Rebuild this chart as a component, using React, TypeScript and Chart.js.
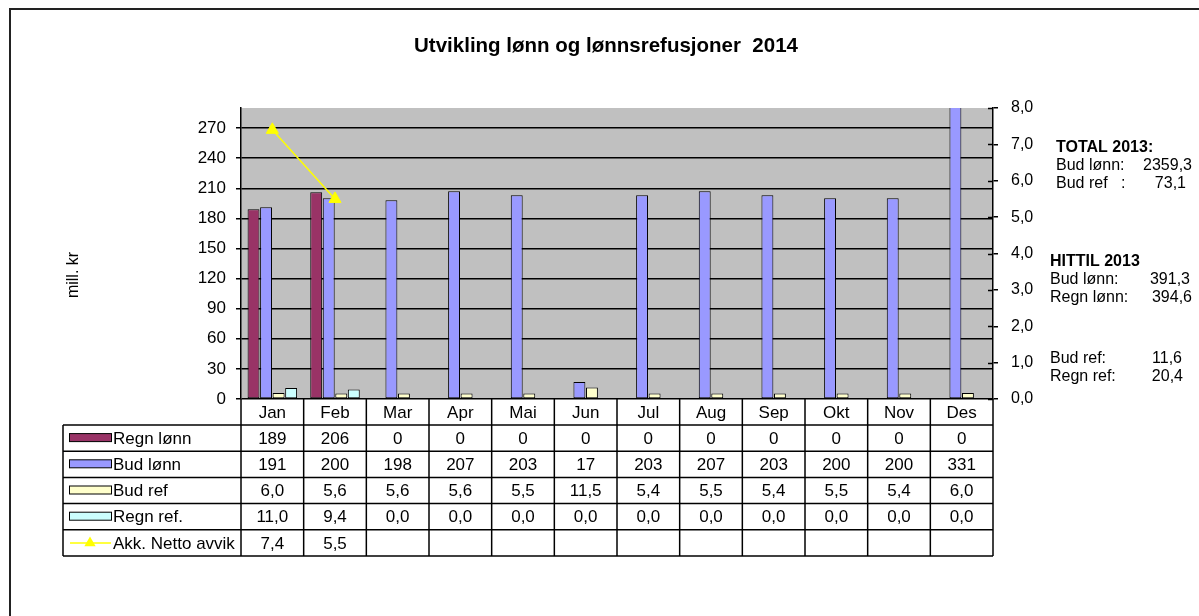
import React, { useEffect, useRef } from "react";
import { Chart, registerables } from "chart.js";

Chart.register(...registerables);

const FONT = '"Liberation Sans", Arial, sans-serif';

const titleText = "Utvikling lønn og lønnsrefusjoner  2014";
const yAxisTitle = "mill. kr";

const months = ["Jan", "Feb", "Mar", "Apr", "Mai", "Jun", "Jul", "Aug", "Sep", "Okt", "Nov", "Des"];
const regnLonn = [189, 206, 0, 0, 0, 0, 0, 0, 0, 0, 0, 0];
const budLonn = [191, 200, 198, 207, 203, 17, 203, 207, 203, 200, 200, 331];
const budRef = [6.0, 5.6, 5.6, 5.6, 5.5, 11.5, 5.4, 5.5, 5.4, 5.5, 5.4, 6.0];
const regnRef = [11.0, 9.4, 0, 0, 0, 0, 0, 0, 0, 0, 0, 0];
const akkNettoAvvik: (number | null)[] = [7.4, 5.5, null, null, null, null, null, null, null, null, null, null];

const leftTicks = [0, 30, 60, 90, 120, 150, 180, 210, 240, 270];
const rightTicks = [0, 1, 2, 3, 4, 5, 6, 7, 8];

const seriesNames = ["Regn lønn", "Bud lønn", "Bud ref", "Regn ref.", "Akk. Netto avvik"];
const seriesDecimals = [0, 0, 1, 1, 1];

const totalHeading = "TOTAL 2013:";
const totalLabels = ["Bud lønn:", "Bud ref   :"];
const totalValues = ["2359,3", "73,1"];
const hittilHeading = "HITTIL 2013";
const hittilLabels = ["Bud lønn:", "Regn lønn:", "Bud ref:", "Regn ref:"];
const hittilValues = ["391,3", "394,6", "11,6", "20,4"];

const fmt = (v: number | null, d: number) => (v == null ? "" : v.toFixed(d).replace(".", ","));

const drawTriangle = (ctx: CanvasRenderingContext2D, x: number, y: number, r: number) => {
  ctx.beginPath();
  ctx.moveTo(x, y - r);
  ctx.lineTo(x + 0.866 * r, y + 0.5 * r);
  ctx.lineTo(x - 0.866 * r, y + 0.5 * r);
  ctx.closePath();
  ctx.fill();
};

const customPlugin = {
  id: "custom",
  beforeDraw(chart: any) {
    const { ctx, chartArea: a, width, height } = chart;
    ctx.save();
    ctx.fillStyle = "#ffffff";
    ctx.fillRect(0, 0, width, height);
    ctx.fillStyle = "#C0C0C0";
    ctx.fillRect(a.left, a.top, a.right - a.left, a.bottom - a.top);
    ctx.restore();
  },
  afterDraw(chart: any) {
    const { ctx, chartArea: a } = chart;
    const xs = chart.scales.x;
    const y2 = chart.scales.y2;
    const n = months.length;
    const colW = (a.right - a.left) / n;
    ctx.save();

    // outer frame
    ctx.strokeStyle = "#222";
    ctx.lineWidth = 2;
    ctx.beginPath();
    ctx.moveTo(10, 616);
    ctx.lineTo(10, 9);
    ctx.lineTo(1199, 9);
    ctx.stroke();

    // title
    ctx.fillStyle = "#000";
    ctx.font = `bold 20.5px ${FONT}`;
    ctx.textAlign = "center";
    ctx.textBaseline = "alphabetic";
    ctx.fillText(titleText, 606, 52);

    // y axis title
    ctx.save();
    ctx.translate(74, 275);
    ctx.rotate(-Math.PI / 2);
    ctx.font = `16px ${FONT}`;
    ctx.textAlign = "center";
    ctx.textBaseline = "middle";
    ctx.fillText(yAxisTitle, 0, 0);
    ctx.restore();

    // inner crossing ticks on right axis
    ctx.strokeStyle = "#000";
    ctx.lineWidth = 1.5;
    rightTicks.forEach((t) => {
      const py = Math.round(y2.getPixelForValue(t)) + 0.5;
      ctx.beginPath();
      ctx.moveTo(a.right - 5, py);
      ctx.lineTo(a.right, py);
      ctx.stroke();
    });

    // data table
    const catTop = a.bottom;
    const rowH = 26.2;
    const catBottom = catTop + 26;
    const legendLeft = 63;
    const nRows = seriesNames.length;
    const tableBottom = catBottom + rowH * nRows;

    ctx.strokeStyle = "#000";
    ctx.lineWidth = 1.5;
    for (let i = 0; i <= n; i++) {
      const x = a.left + i * colW;
      ctx.beginPath();
      ctx.moveTo(x, catTop);
      ctx.lineTo(x, i === 0 || i === n ? tableBottom : catBottom);
      ctx.stroke();
    }
    for (let r = 0; r <= nRows; r++) {
      const y = catBottom + r * rowH;
      ctx.beginPath();
      ctx.moveTo(legendLeft, y);
      ctx.lineTo(a.right, y);
      ctx.stroke();
    }
    ctx.beginPath();
    ctx.moveTo(legendLeft, catBottom);
    ctx.lineTo(legendLeft, tableBottom);
    ctx.stroke();
    for (let i = 1; i < n; i++) {
      const x = a.left + i * colW;
      ctx.beginPath();
      ctx.moveTo(x, catBottom);
      ctx.lineTo(x, tableBottom);
      ctx.stroke();
    }

    ctx.fillStyle = "#000";
    ctx.font = `17px ${FONT}`;
    ctx.textAlign = "center";
    ctx.textBaseline = "middle";
    months.forEach((m, i) => {
      ctx.fillText(m, xs.getPixelForValue(i), (catTop + catBottom) / 2 + 1);
    });

    const datasets = chart.data.datasets;
    for (let r = 0; r < nRows; r++) {
      const ds = datasets[r];
      const cy = catBottom + r * rowH + rowH / 2;
      if (ds.type === "line") {
        ctx.strokeStyle = ds.borderColor;
        ctx.lineWidth = 1.5;
        ctx.beginPath();
        ctx.moveTo(70, cy);
        ctx.lineTo(111, cy);
        ctx.stroke();
        ctx.fillStyle = ds.borderColor;
        drawTriangle(ctx, 90, cy, 6.5);
      } else {
        ctx.fillStyle = ds.backgroundColor;
        ctx.fillRect(69, cy - 4.5, 43, 8);
        ctx.strokeStyle = "#000";
        ctx.lineWidth = 1;
        ctx.strokeRect(69.5, cy - 4.5, 42, 8);
      }
      ctx.fillStyle = "#000";
      ctx.textAlign = "left";
      ctx.fillText(seriesNames[r], 113, cy + 1);
      ctx.textAlign = "center";
      ds.data.forEach((v: number | null, i: number) => {
        ctx.fillText(fmt(v, seriesDecimals[r]), xs.getPixelForValue(i), cy + 1);
      });
    }

    // right text block
    ctx.fillStyle = "#000";
    ctx.textBaseline = "middle";
    ctx.textAlign = "left";
    ctx.font = `bold 16px ${FONT}`;
    ctx.fillText(totalHeading, 1056, 148);
    ctx.fillText(hittilHeading, 1050, 262);
    ctx.font = `16px ${FONT}`;
    const totalY = [166, 184];
    totalLabels.forEach((l, i) => {
      ctx.textAlign = "left";
      ctx.fillText(l, 1056, totalY[i]);
      ctx.textAlign = "right";
      ctx.fillText(totalValues[i], i === 0 ? 1192 : 1186, totalY[i]);
    });
    const hittilY = [280, 298, 359, 377];
    const hittilRight = [1190, 1192, 1182, 1183];
    hittilLabels.forEach((l, i) => {
      ctx.textAlign = "left";
      ctx.fillText(l, 1050, hittilY[i]);
      ctx.textAlign = "right";
      ctx.fillText(hittilValues[i], hittilRight[i], hittilY[i]);
    });

    ctx.restore();
  },
};

const barCommon = {
  borderColor: "#000000",
  borderWidth: 1,
  borderSkipped: false as const,
  yAxisID: "y",
  clip: 0,
  categoryPercentage: 0.8,
  barPercentage: 0.95,
  order: 1,
};

export default function App() {
  const ref = useRef<HTMLCanvasElement>(null);
  useEffect(() => {
    const chart = new Chart(ref.current!, {
      type: "bar",
      data: {
        labels: months,
        datasets: [
          { ...barCommon, type: "bar", label: seriesNames[0], data: regnLonn, backgroundColor: "#993366" },
          { ...barCommon, type: "bar", label: seriesNames[1], data: budLonn, backgroundColor: "#9999FF" },
          { ...barCommon, type: "bar", label: seriesNames[2], data: budRef, backgroundColor: "#FFFFCC" },
          { ...barCommon, type: "bar", label: seriesNames[3], data: regnRef, backgroundColor: "#CCFFFF" },
          {
            type: "line",
            label: seriesNames[4],
            data: akkNettoAvvik,
            yAxisID: "y2",
            borderColor: "#FFFF00",
            backgroundColor: "#FFFF00",
            borderWidth: 1.5,
            pointStyle: "triangle",
            pointRadius: 7,
            pointBackgroundColor: "#FFFF00",
            pointBorderColor: "#FFFF00",
            pointBorderWidth: 1,
            order: 0,
            clip: 0,
          } as any,
        ],
      },
      options: {
        responsive: false,
        animation: false,
        devicePixelRatio: 1,
        layout: { padding: { left: 0, right: 0, top: 108, bottom: 217 } },
        plugins: {
          legend: { display: false },
          title: { display: false },
          tooltip: { enabled: false },
        },
        scales: {
          x: { display: false, offset: true },
          y: {
            position: "left",
            min: 0,
            max: 290,
            afterBuildTicks: (s: any) => {
              s.ticks = leftTicks.map((v) => ({ value: v }));
            },
            afterFit: (s: any) => {
              s.width = 241;
            },
            ticks: { color: "#000", font: { family: FONT, size: 17 }, padding: 10 },
            grid: { color: "#000", lineWidth: 1.5, tickLength: 5, drawTicks: true },
            border: { display: true, color: "#000", width: 1.5 },
          },
          y2: {
            position: "right",
            min: 0,
            max: 8,
            afterBuildTicks: (s: any) => {
              s.ticks = rightTicks.map((v) => ({ value: v }));
            },
            afterFit: (s: any) => {
              s.width = 206;
            },
            ticks: {
              color: "#000",
              font: { family: FONT, size: 16 },
              padding: 13,
              callback: (v: any) => fmt(Number(v), 1),
            },
            grid: { drawOnChartArea: false, color: "#000", lineWidth: 1.5, tickLength: 5 },
            border: { display: true, color: "#000", width: 1.5 },
          },
        },
      } as any,
      plugins: [customPlugin],
    });
    return () => chart.destroy();
  }, []);
  return (
    <div style={{ position: "fixed", left: 0, top: 0, width: 1199, height: 616, background: "#fff" }}>
      <canvas ref={ref} width={1199} height={616} style={{ display: "block" }} />
    </div>
  );
}
